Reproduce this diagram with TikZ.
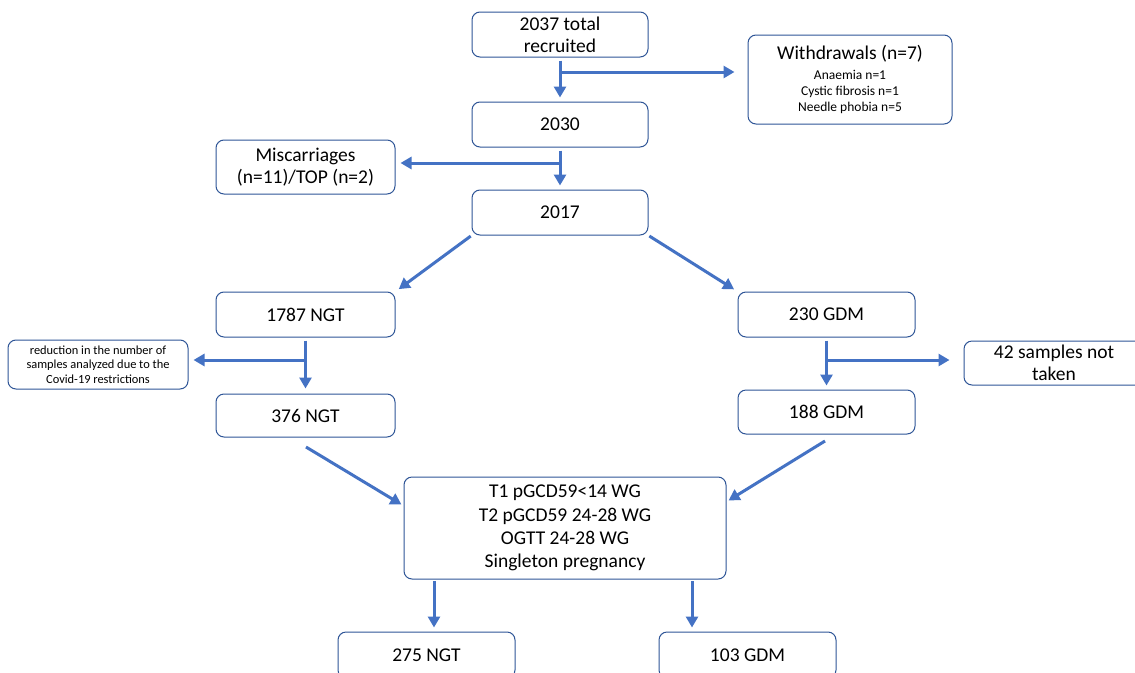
\documentclass[tikz,border=0pt]{standalone}
\usepackage{fontspec}
\setmainfont{Carlito}
\usetikzlibrary{arrows.meta}
\definecolor{boxc}{HTML}{2F5597}
\definecolor{arrc}{HTML}{4472C4}
\begin{document}
\begin{tikzpicture}[x=1pt,y=-1pt,
  box/.style={draw=boxc, rounded corners=8pt, line width=1pt, align=center, inner sep=0pt, fill=white,
    font=\fontsize{19.5}{22}\selectfont},
  arr/.style={draw=arrc, line width=3pt, -{Triangle[length=11pt,width=12pt]}},
  seg/.style={draw=arrc, line width=3pt}]
\useasboundingbox (0,0) rectangle (1135,672);
\fill[white] (0,0) rectangle (1135,672);
% boxes
\node[box, minimum width=176, minimum height=45] (A) at (560,34.5) {2037 total\\recruited};
\node[box, minimum width=204, minimum height=89] (W) at (850,79.5)
  {Withdrawals (n=7)\\[-2pt]{\fontsize{13.5}{16}\selectfont Anaemia n=1}\\[-6pt]{\fontsize{13.5}{16}\selectfont Cystic fibrosis n=1}\\[-6pt]{\fontsize{13.5}{16}\selectfont Needle phobia n=5}};
\node[box, minimum width=176, minimum height=45] (B) at (560,124.5) {2030};
\node[box, minimum width=179, minimum height=54] (M) at (305.5,167) {Miscarriages\\(n=11)/TOP (n=2)};
\node[box, minimum width=176, minimum height=45] (C) at (560,212.5) {2017};
\node[box, minimum width=179, minimum height=45] (N1) at (305.5,314.5) {1787 NGT};
\node[box, minimum width=177, minimum height=45] (G1) at (826.5,314.5) {230 GDM};
\node[box, minimum width=180, minimum height=49, font=\fontsize{12.4}{14.5}\selectfont] (R) at (98,364.5)
  {reduction in the number of\\samples analyzed due to the\\Covid-19 restrictions};
\node[box, minimum width=180, minimum height=44] (S) at (1054,363) {42 samples not\\taken};
\node[box, minimum width=179, minimum height=43] (N2) at (305.5,415.5) {376 NGT};
\node[box, minimum width=177, minimum height=44] (G2) at (826.5,412) {188 GDM};
\node[box, minimum width=322, minimum height=102, font=\fontsize{19.5}{23.3}\selectfont] (T) at (565,528)
  {T1 pGCD59<14 WG\\T2 pGCD59 24-28 WG\\OGTT 24-28 WG\\Singleton pregnancy};
\node[box, minimum width=177, minimum height=46] (N3) at (426.5,655) {275 NGT};
\node[box, minimum width=177, minimum height=46] (G3) at (747.5,655) {103 GDM};
% connectors
\draw[arr, shorten <=3pt, shorten >=4pt] (A.south) -- (B.north);
\coordinate (a1) at (560,72);
\draw[arr, shorten >=13pt] (a1) -- (a1 -| W.west);
\draw[arr, shorten <=3pt, shorten >=4pt] (B.south) -- (C.north);
\coordinate (b1) at (560,163);
\draw[arr, shorten >=5pt] (b1) -- (b1 -| M.east);
\draw[arr, shorten <=1pt, shorten >=4pt] (C.south west) -- (N1.north east);
\draw[arr, shorten <=1pt, shorten >=4pt] (C.south east) -- (G1.north west);
\coordinate (n1) at (305,360);
\draw[arr, shorten <=3pt, shorten >=5pt] (N1.south) -- (N2.north);
\draw[arr, shorten >=5pt] (n1) -- (n1 -| R.east);
\coordinate (g1) at (825,360);
\draw[arr, shorten <=3pt, shorten >=4pt] (G1.south) -- (G2.north);
\draw[arr, shorten >=14pt] (g1) -- (g1 -| S.west);
\coordinate (n2) at (306,447);
\coordinate (t1) at (404,506);
\draw[arr, shorten >=3pt] (n2) -- (t1);
\coordinate (g2) at (825,441);
\coordinate (t2) at (726,502);
\draw[arr, shorten >=3pt] (g2) -- (t2);
\coordinate (t3) at (434,579);
\draw[arr, shorten <=2pt, shorten >=4pt] (t3) -- (t3 |- N3.north);
\coordinate (t4) at (692,579);
\draw[arr, shorten <=2pt, shorten >=4pt] (t4) -- (t4 |- G3.north);
\end{tikzpicture}
\end{document}
